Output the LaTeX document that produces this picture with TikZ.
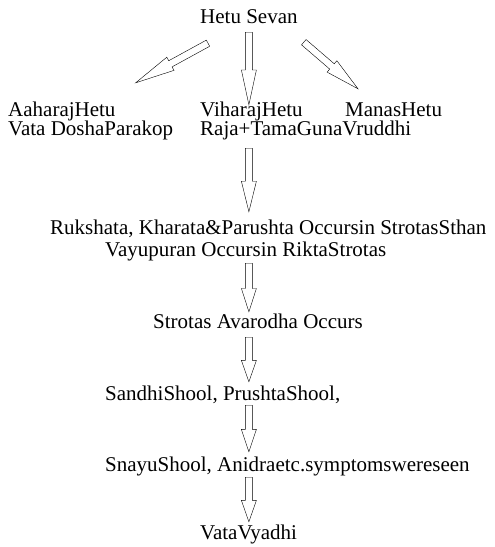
\documentclass[tikz,border=0pt]{standalone}
\usepackage{fontspec}
\setmainfont{Liberation Serif}
\usetikzlibrary{calc}

\begin{document}
\begin{tikzpicture}[x=1pt, y=1pt,
    every node/.style={anchor=base west, inner sep=0pt, text height=15pt, text depth=5pt, font=\fontsize{21}{24}\selectfont},
    fatarrow/.style={line width=0.7pt, line join=miter, to path={
        ($(\tikztostart)!3.5pt!90:(\tikztotarget)$)
        -- ($(\tikztostart)!0.52!(\tikztotarget)!3.5pt!90:(\tikztotarget)$)
        -- ($(\tikztostart)!0.52!(\tikztotarget)!7.5pt!90:(\tikztotarget)$)
        -- (\tikztotarget)
        -- ($(\tikztostart)!0.52!(\tikztotarget)!7.5pt!-90:(\tikztotarget)$)
        -- ($(\tikztostart)!0.52!(\tikztotarget)!3.5pt!-90:(\tikztotarget)$)
        -- ($(\tikztostart)!3.5pt!-90:(\tikztotarget)$) -- cycle}}]
    \useasboundingbox (0,0) rectangle (495,-547);

    % Hetu
    \node (hetu) at (200,-23) {Hetu Sevan};
    \node (aahar) at (8,-116) {AaharajHetu};
    \node (vihar) at (200,-116) {ViharajHetu};
    \node (manas) at (345,-116) {ManasHetu};
    \node (vata) at (8,-135) {Vata DoshaParakop};
    \node (raja) at (200,-135) {Raja+TamaGunaVruddhi};

    % Samprapti
    \node (ruksh) at (50,-234) {Rukshata, Kharata\&Parushta Occursin StrotasSthan};
    \node (vayu) at (105,-256) {Vayupuran Occursin RiktaStrotas};
    \node (strotas) at (153,-328) {Strotas Avarodha Occurs};
    \node (sandhi) at (105,-400) {SandhiShool, PrushtaShool,};
    \node (snayu) at (105,-471) {SnayuShool, Anidraetc.symptomswereseen};
    \node (vyadhi) at (200,-539) {VataVyadhi};

    % Arrows
    \draw ($(hetu.south west)+(8,-15)$) to[fatarrow] ($(aahar.north east)+(20,18)$);
    \draw ($(hetu.south)+(0,-4)$) to[fatarrow] ($(vihar.north -| hetu.south)+(0,-4)$);
    \draw ($(hetu.south east)+(6,-14)$) to[fatarrow] ($(manas.north west)+(13,12)$);

    \draw ($(raja.south -| hetu.south)+(0,-8)$) to[fatarrow] ($(ruksh.north -| hetu.south)+(0,7)$);
    \draw ($(vayu.south -| hetu.south)+(0,-2)$) to[fatarrow] ($(strotas.north -| hetu.south)+(0,1)$);
    \draw ($(strotas.south -| hetu.south)+(0,-4)$) to[fatarrow] ($(sandhi.north -| hetu.south)+(0,3)$);
    \draw (sandhi.south -| hetu.south) to[fatarrow] ($(snayu.north -| hetu.south)+(0,4)$);
    \draw ($(snayu.south -| hetu.south)+(0,-1)$) to[fatarrow] ($(vyadhi.north -| hetu.south)+(0,2)$);
\end{tikzpicture}
\end{document}
